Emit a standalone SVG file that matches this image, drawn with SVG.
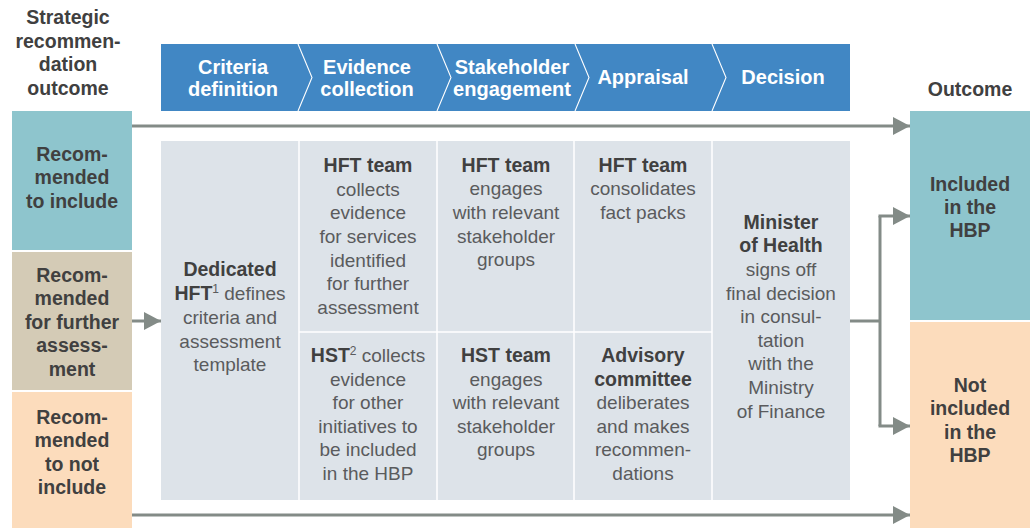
<svg xmlns="http://www.w3.org/2000/svg" width="1035" height="528" viewBox="0 0 1035 528">
  <style>
    text { font-family: "Liberation Sans", Arial, sans-serif; text-anchor: middle; }
    .hd { font-size: 19.5px; font-weight: bold; fill: #404040; }
    .lbl { font-size: 19.5px; font-weight: bold; fill: #404040; }
    .stage { font-size: 20px; font-weight: bold; fill: #ffffff; }
    .body { font-size: 19px; fill: #5a5b5d; }
    .b { font-weight: bold; fill: #404040; font-size: 19.5px; }
    .sup { font-size: 12px; }
    .chev { fill: none; stroke: #ffffff; stroke-width: 1.1; }
    .sep { stroke: #ffffff; stroke-width: 1.5; }
    .conn { fill: none; stroke: #838b87; stroke-width: 3; }
  </style>
  <defs>
    <marker id="arrow" markerUnits="userSpaceOnUse" markerWidth="17" markerHeight="18" refX="17" refY="9" orient="auto">
      <path d="M0,0 L17,9 L0,18 Z" fill="#838b87"/>
    </marker>
  </defs>

  <!-- Column headers -->
  <g id="header-strategic">
    <text class="hd" x="68" y="24">Strategic</text>
    <text class="hd" x="68" y="48">recommen-</text>
    <text class="hd" x="68" y="71">dation</text>
    <text class="hd" x="68" y="95">outcome</text>
  </g>
  <g id="header-outcome">
    <text class="hd" x="970" y="96">Outcome</text>
  </g>

  <!-- Process stages bar -->
  <g id="stages">
    <rect x="161" y="44" width="689" height="67" fill="#4187c4"/>
    <path class="chev" d="M298,44 L312,77.5 L298,111"/>
    <path class="chev" d="M437,44 L451,77.5 L437,111"/>
    <path class="chev" d="M575,44 L589,77.5 L575,111"/>
    <path class="chev" d="M712,44 L726,77.5 L712,111"/>
    <text class="stage" x="233" y="74">Criteria</text>
    <text class="stage" x="233" y="96">definition</text>
    <text class="stage" x="367" y="74">Evidence</text>
    <text class="stage" x="367" y="96">collection</text>
    <text class="stage" x="512" y="74">Stakeholder</text>
    <text class="stage" x="512" y="96">engagement</text>
    <text class="stage" x="643" y="84">Appraisal</text>
    <text class="stage" x="783" y="84">Decision</text>
  </g>

  <!-- Strategic recommendation outcomes -->
  <g id="rec-include">
    <rect x="12" y="111" width="120" height="139" fill="#8ec5cd"/>
    <text class="lbl" x="72" y="161">Recom-</text>
    <text class="lbl" x="72" y="184">mended</text>
    <text class="lbl" x="72" y="208">to include</text>
  </g>
  <g id="rec-further">
    <rect x="12" y="252" width="120" height="138" fill="#d4cbb6"/>
    <text class="lbl" x="72" y="282">Recom-</text>
    <text class="lbl" x="72" y="305">mended</text>
    <text class="lbl" x="72" y="329">for further</text>
    <text class="lbl" x="72" y="352">assess-</text>
    <text class="lbl" x="72" y="376">ment</text>
  </g>
  <g id="rec-not">
    <rect x="12" y="392" width="120" height="136" fill="#fcdcbc"/>
    <text class="lbl" x="72" y="424">Recom-</text>
    <text class="lbl" x="72" y="447">mended</text>
    <text class="lbl" x="72" y="471">to not</text>
    <text class="lbl" x="72" y="494">include</text>
  </g>

  <!-- Process grid -->
  <g id="grid">
    <rect x="161" y="141" width="689" height="359" fill="#dde3e9"/>
    <line class="sep" x1="299" y1="141" x2="299" y2="500"/>
    <line class="sep" x1="437" y1="141" x2="437" y2="500"/>
    <line class="sep" x1="574" y1="141" x2="574" y2="500"/>
    <line class="sep" x1="712" y1="141" x2="712" y2="500"/>
    <line class="sep" x1="299" y1="332" x2="712" y2="332"/>
  </g>

  <g id="criteria-definition">
    <text class="body" x="230" y="276"><tspan class="b">Dedicated</tspan></text>
    <text class="body" x="230" y="300"><tspan class="b">HFT</tspan><tspan class="sup" dy="-7">1</tspan><tspan dy="7"> defines</tspan></text>
    <text class="body" x="230" y="324">criteria and</text>
    <text class="body" x="230" y="348">assessment</text>
    <text class="body" x="230" y="371">template</text>
  </g>

  <g id="hft-evidence">
    <text class="body" x="368" y="172"><tspan class="b">HFT team</tspan></text>
    <text class="body" x="368" y="196">collects</text>
    <text class="body" x="368" y="219">evidence</text>
    <text class="body" x="368" y="243">for services</text>
    <text class="body" x="368" y="267">identified</text>
    <text class="body" x="368" y="290">for further</text>
    <text class="body" x="368" y="314">assessment</text>
  </g>
  <g id="hst-evidence">
    <text class="body" x="368" y="362"><tspan class="b">HST</tspan><tspan class="sup" dy="-7">2</tspan><tspan dy="7"> collects</tspan></text>
    <text class="body" x="368" y="386">evidence</text>
    <text class="body" x="368" y="409">for other</text>
    <text class="body" x="368" y="433">initiatives to</text>
    <text class="body" x="368" y="456">be included</text>
    <text class="body" x="368" y="480">in the HBP</text>
  </g>

  <g id="hft-stakeholders">
    <text class="body" x="506" y="172"><tspan class="b">HFT team</tspan></text>
    <text class="body" x="506" y="195">engages</text>
    <text class="body" x="506" y="219">with relevant</text>
    <text class="body" x="506" y="243">stakeholder</text>
    <text class="body" x="506" y="266">groups</text>
  </g>
  <g id="hst-stakeholders">
    <text class="body" x="506" y="362"><tspan class="b">HST team</tspan></text>
    <text class="body" x="506" y="386">engages</text>
    <text class="body" x="506" y="409">with relevant</text>
    <text class="body" x="506" y="433">stakeholder</text>
    <text class="body" x="506" y="456">groups</text>
  </g>

  <g id="hft-appraisal">
    <text class="body" x="643" y="172"><tspan class="b">HFT team</tspan></text>
    <text class="body" x="643" y="195">consolidates</text>
    <text class="body" x="643" y="219">fact packs</text>
  </g>
  <g id="advisory-committee">
    <text class="body" x="643" y="362"><tspan class="b">Advisory</tspan></text>
    <text class="body" x="643" y="386"><tspan class="b">committee</tspan></text>
    <text class="body" x="643" y="409">deliberates</text>
    <text class="body" x="643" y="433">and makes</text>
    <text class="body" x="643" y="456">recommen-</text>
    <text class="body" x="643" y="480">dations</text>
  </g>

  <g id="minister-decision">
    <text class="body" x="781" y="229"><tspan class="b">Minister</tspan></text>
    <text class="body" x="781" y="252"><tspan class="b">of Health</tspan></text>
    <text class="body" x="781" y="276">signs off</text>
    <text class="body" x="781" y="300">final decision</text>
    <text class="body" x="781" y="323">in consul-</text>
    <text class="body" x="781" y="347">tation</text>
    <text class="body" x="781" y="370">with the</text>
    <text class="body" x="781" y="394">Ministry</text>
    <text class="body" x="781" y="418">of Finance</text>
  </g>

  <!-- Outcomes -->
  <g id="out-included">
    <rect x="910" y="111" width="120" height="209" fill="#8ec5cd"/>
    <text class="lbl" x="970" y="191">Included</text>
    <text class="lbl" x="970" y="214">in the</text>
    <text class="lbl" x="970" y="237">HBP</text>
  </g>
  <g id="out-not-included">
    <rect x="910" y="322" width="120" height="206" fill="#fcdcbc"/>
    <text class="lbl" x="970" y="392">Not</text>
    <text class="lbl" x="970" y="415">included</text>
    <text class="lbl" x="970" y="439">in the</text>
    <text class="lbl" x="970" y="462">HBP</text>
  </g>

  <!-- Connectors -->
  <g id="connectors">
    <path class="conn" d="M132,126 L910,126" marker-end="url(#arrow)"/>
    <path class="conn" d="M132,515 L910,515" marker-end="url(#arrow)"/>
    <path class="conn" d="M132,321 L161,321" marker-end="url(#arrow)"/>
    <path class="conn" d="M850,321 L880,321"/>
    <path class="conn" d="M880,216 L880,426"/>
    <path class="conn" d="M878.5,216 L910,216" marker-end="url(#arrow)"/>
    <path class="conn" d="M878.5,426 L910,426" marker-end="url(#arrow)"/>
  </g>
</svg>
